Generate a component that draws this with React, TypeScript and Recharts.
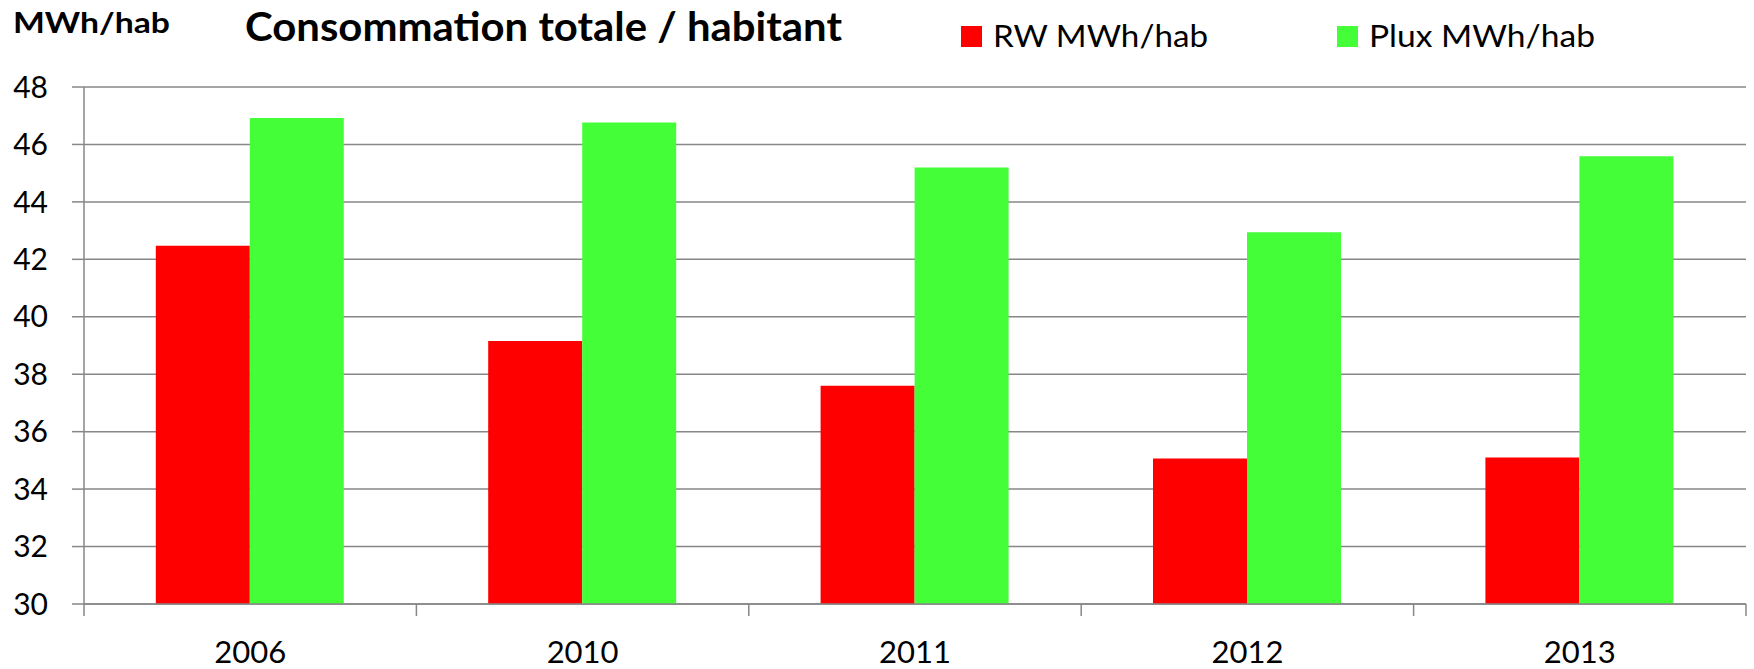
import React from 'react';
import { BarChart, Bar, XAxis, YAxis, CartesianGrid, Legend } from 'recharts';

const categories = ['2006', '2010', '2011', '2012', '2013'];
const rwValues = [42.47, 39.16, 37.6, 35.07, 35.1];
const pluxValues = [46.92, 46.76, 45.2, 42.94, 45.59];
const yTicks = [30, 32, 34, 36, 38, 40, 42, 44, 46, 48];
const seriesNames = ['RW MWh/hab', 'Plux MWh/hab'];
const seriesColors = ['#FF0000', '#44FF38'];
const titleText = 'Consommation totale / habitant';
const unitText = 'MWh/hab';

const data = categories.map((c, i) => ({ year: c, rw: rwValues[i], plux: pluxValues[i] }));

const W = 1754;
const H = 669;
const M_TOP = 87;
const M_RIGHT = 8;
const Y_W = 84;
const X_H = 65;
const PLOT_W = W - Y_W - M_RIGHT;
const HALF_BAND = PLOT_W / categories.length / 2;
const AXIS_Y = H - X_H;
const GRAY = '#878787';
const FONT = 'Lato, "Open Sans", sans-serif';

const XTick = (props: any) => {
  const { x, index, payload } = props;
  const last = index === categories.length - 1;
  return (
    <g>
      <line x1={x - HALF_BAND} x2={x - HALF_BAND} y1={AXIS_Y} y2={AXIS_Y + 12} stroke={GRAY} strokeWidth={1.5} />
      {last && <line x1={x + HALF_BAND} x2={x + HALF_BAND} y1={AXIS_Y} y2={AXIS_Y + 12} stroke={GRAY} strokeWidth={1.5} />}
      <text x={x} y={AXIS_Y + 37} dy="0.71em" textAnchor="middle" fill="#000" fontSize={31} fontFamily={FONT}>
        {payload.value}
      </text>
    </g>
  );
};

const LEGEND_X = [961, 1337];
const LEGEND_TEXT_W = [215, 226];

const renderLegend = () => (
  <svg width={W} height={60} style={{ display: 'block' }}>
    {seriesNames.map((n, i) => (
      <g key={n}>
        <rect x={LEGEND_X[i]} y={26} width={21} height={21} fill={seriesColors[i]} />
        <text
          x={LEGEND_X[i] + 32}
          y={47}
          fontSize={31}
          fontFamily={FONT}
          fill="#000"
          textLength={LEGEND_TEXT_W[i]}
          lengthAdjust="spacingAndGlyphs"
        >
          {n}
        </text>
      </g>
    ))}
  </svg>
);

export default function App() {
  return (
    <div style={{ position: 'absolute', left: 0, top: 0, width: W, height: H, background: '#fff' }}>
      <BarChart
        width={W}
        height={H}
        data={data}
        margin={{ top: M_TOP, right: M_RIGHT, bottom: 0, left: 0 }}
        barGap={0}
        barCategoryGap="21.6%"
      >
        <CartesianGrid horizontal vertical={false} stroke={GRAY} strokeWidth={1.5} />
        <XAxis
          dataKey="year"
          height={X_H}
          tickLine={false}
          tickSize={12}
          tickMargin={24}
          axisLine={{ stroke: GRAY, strokeWidth: 1.5 }}
          tick={<XTick />}
          interval={0}
        />
        <YAxis
          width={Y_W}
          domain={[30, 48]}
          ticks={yTicks}
          interval={0}
          tickSize={12}
          tickMargin={24}
          allowDataOverflow
          axisLine={{ stroke: GRAY, strokeWidth: 1.5 }}
          tickLine={{ stroke: GRAY, strokeWidth: 1.5 }}
          tick={{ fill: '#000', fontSize: 30, fontFamily: FONT }}
        />
        <Legend
          layout="horizontal"
          verticalAlign="middle"
          align="center"
          content={renderLegend}
          wrapperStyle={{ left: 0, top: 0, width: W, height: 60 }}
        />
        <Bar dataKey="rw" name={seriesNames[0]} fill={seriesColors[0]} isAnimationActive={false} />
        <Bar dataKey="plux" name={seriesNames[1]} fill={seriesColors[1]} isAnimationActive={false} />
      </BarChart>
      <svg width={W} height={60} style={{ position: 'absolute', left: 0, top: 0, pointerEvents: 'none' }}>
        <text x={13} y={33} fontSize={29} fontWeight="bold" fontFamily={FONT} fill="#000" textLength={157} lengthAdjust="spacingAndGlyphs">
          {unitText}
        </text>
        <text x={245} y={41} fontSize={40} fontWeight="bold" fontFamily={FONT} fill="#000" textLength={597} lengthAdjust="spacingAndGlyphs">
          {titleText}
        </text>
      </svg>
    </div>
  );
}
